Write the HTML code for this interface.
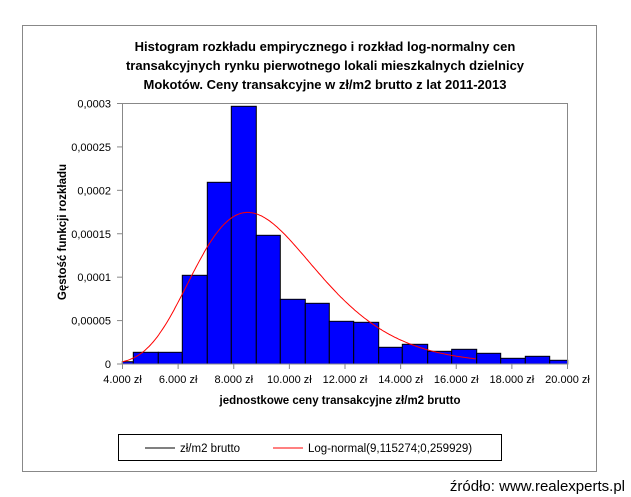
<!DOCTYPE html>
<html><head><meta charset="utf-8"><style>
html,body{margin:0;padding:0;background:#fff;}
svg{display:block;}
text{font-family:"Liberation Sans",sans-serif;}
</style></head><body>
<svg id="s" width="631" height="497" viewBox="0 0 631 497" xmlns="http://www.w3.org/2000/svg">
<rect x="22.5" y="25.5" width="574" height="446" fill="#fff" stroke="#888" stroke-width="1"/>
<g font-weight="bold" font-size="13" text-anchor="middle" fill="#000">
<text x="325" y="51">Histogram rozkładu empirycznego i rozkład log-normalny cen</text>
<text x="325" y="70">transakcyjnych  rynku pierwotnego lokali mieszkalnych dzielnicy</text>
<text x="325" y="89">Mokotów. Ceny transakcyjne  w zł/m2 brutto z lat 2011-2013</text>
</g>
<g id="bars" fill="#0000ff" stroke="#000" stroke-width="1"></g>
<rect x="122.5" y="103.5" width="445" height="260.5" fill="none" stroke="#888"/>
<path id="curve" fill="none" stroke="#ff0000" stroke-width="1"/>
<g id="ax" font-size="11" fill="#000"></g>
<text x="340" y="404" font-size="11.5" font-weight="bold" text-anchor="middle">jednostkowe ceny transakcyjne  zł/m2 brutto</text>
<text transform="translate(66,232) rotate(-90)" font-size="11.5" font-weight="bold" text-anchor="middle">Gęstość funkcji  rozkładu</text>
<rect x="118.5" y="434.5" width="383" height="26" fill="none" stroke="#000"/>
<line x1="145" y1="448" x2="175" y2="448" stroke="#000"/>
<text x="180" y="452" font-size="11.5">zł/m2 brutto</text>
<line x1="273" y1="448" x2="303" y2="448" stroke="#ff0000"/>
<text x="308" y="452" font-size="11.5">Log-normal(9,115274;0,259929)</text>
<text x="625" y="491" font-size="15" text-anchor="end">źródło: www.realexperts.pl</text>
</svg>
<script>
var NS="http://www.w3.org/2000/svg";
var e=[122.3,133.3,158.3,182.3,207.3,231.3,256.3,280.3,305.3,329.3,353.7,378.7,402.3,427.7,451.7,476.7,500.7,525.3,549.7,567.7];
var t=[361.7,352.3,352.3,275.3,182.3,106.3,235.3,299.3,303.3,321.3,322.3,347.3,344.3,351.3,349.3,353.3,358.3,356.3,360.3];
var g=document.getElementById('bars');
for(var i=0;i<t.length;i++){var r=document.createElementNS(NS,'rect');
r.setAttribute('x',e[i]);r.setAttribute('y',t[i]);r.setAttribute('width',e[i+1]-e[i]);r.setAttribute('height',364-t[i]);g.appendChild(r);}
function X(v){return 122.5+(v-4000)/16000*445;}
function Y(v){return 364-v/0.0003*260.5;}
var mu=9.115274,s=0.259929,d="";
for(var x=4000;x<=16700;x+=50){var l=Math.log(x)-mu;var p=Math.exp(-l*l/(2*s*s))/(x*s*Math.sqrt(2*Math.PI));
d+=(x==4000?"M":"L")+X(x).toFixed(1)+" "+Y(p).toFixed(1);}
document.getElementById('curve').setAttribute('d',d);
var ax=document.getElementById('ax');
var yl=["0","0,00005","0,0001","0,00015","0,0002","0,00025","0,0003"];
for(var i=0;i<7;i++){var y=Y(i*0.00005);
var ln=document.createElementNS(NS,'line');ln.setAttribute('x1',117);ln.setAttribute('x2',122.5);ln.setAttribute('y1',y);ln.setAttribute('y2',y);ln.setAttribute('stroke','#888');ax.appendChild(ln);
var tx=document.createElementNS(NS,'text');tx.setAttribute('x',111);tx.setAttribute('y',y+4);tx.setAttribute('text-anchor','end');tx.textContent=yl[i];ax.appendChild(tx);}
for(var i=0;i<9;i++){var v=4000+i*2000;var x=X(v);
var ln=document.createElementNS(NS,'line');ln.setAttribute('x1',x);ln.setAttribute('x2',x);ln.setAttribute('y1',364);ln.setAttribute('y2',369);ln.setAttribute('stroke','#888');ax.appendChild(ln);
var tx=document.createElementNS(NS,'text');tx.setAttribute('x',x);tx.setAttribute('y',383);tx.setAttribute('text-anchor','middle');
tx.textContent=(v/1000)+".000 zł";ax.appendChild(tx);}
</script>
</body></html>
